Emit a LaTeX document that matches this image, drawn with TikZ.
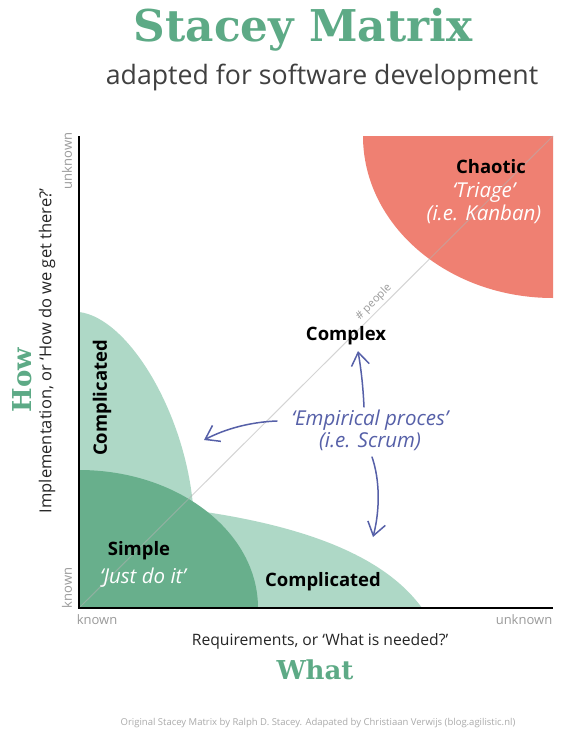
\documentclass[tikz,border=0pt]{standalone}
\usepackage{fontspec}
\setmainfont{Open Sans}
\newfontfamily\slab{DejaVu Serif}
\usetikzlibrary{arrows.meta,calc}
\definecolor{lightg}{HTML}{AED8C6}
\definecolor{darkg}{HTML}{68AF8C}
\definecolor{titleg}{HTML}{5DAA86}
\definecolor{chaos}{HTML}{EF8072}
\definecolor{handb}{HTML}{5660A8}
\definecolor{tickgray}{HTML}{9A9A9A}
\definecolor{footgray}{HTML}{AAAAAA}
\begin{document}
\begin{tikzpicture}[x=1pt,y=-1pt,
  zone/.style={font=\bfseries\fontsize{18.5}{20}\selectfont, text=black, inner sep=0pt},
  hand/.style={font=\itshape\fontsize{20.5}{22}\selectfont, inner sep=0pt},
  ticklbl/.style={font=\fontsize{13}{15}\selectfont, text=tickgray, inner sep=0pt},
  harrow/.style={draw=handb, line width=1.5pt, line cap=round,
    -{Straight Barb[length=13pt,width=18pt,line width=1.5pt]}},
  axis/.style={draw=black, line width=2pt}]
\useasboundingbox (0,0) rectangle (580,736);
\fill[white] (0,0) rectangle (580,736);

% coordinates
\coordinate (O) at (79,608);
\coordinate (TL) at (79,136);
\coordinate (BR) at (553,608);
\coordinate (TR) at (553,136);

% chaotic region
\fill[chaos] (363,136) arc[start angle=180, end angle=90, x radius=190, y radius=162] -- (TR) -- cycle;

% light green regions
\fill[lightg] (79,312) .. controls (130,318) and (190,420) .. (194,520) -- (205,608) -- (O) -- cycle;
\fill[lightg] (79,500) .. controls (280,510) and (380,550) .. (422,608) -- (O) -- cycle;

% dark green region
\fill[darkg] (79,470) arc[start angle=270, end angle=360, x radius=179, y radius=138] -- (O) -- cycle;

% diagonal
\draw[gray!60, opacity=0.55, line width=1pt] (O) -- (TR);
\node[rotate=45, anchor=south, font=\fontsize{11}{13}\selectfont, text=tickgray, inner sep=3pt]
  (people) at ($(O)!0.635!(TR)$) {\# people};

% axes
\draw[axis] (TL) -- (O) -- (BR);

% tick labels
\node[ticklbl] (kx) at (97,620) {known};
\node[ticklbl] (ux) at (524,620) {unknown};
\node[ticklbl, rotate=90] (ky) at (67,588) {known};
\node[ticklbl, rotate=90] (uy) at (67,161) {unknown};

% zone labels
\node[zone] (chaotic) at (491,167) {Chaotic};
\node[hand, text=white, align=center, font=\itshape\fontsize{20.5}{23}\selectfont] (triage) at (484,203) {‘Triage’\\(i.e. Kanban)};
\node[zone] (complex) at (346,336) {Complex};
\node[zone, rotate=90] (cmpv) at (102,398) {Complicated};
\node[zone] (simple) at (139,551) {Simple};
\node[hand, text=white] (just) at (143,578) {‘Just do it’};
\node[zone] (cmph) at (323,582) {Complicated};

% empirical process
\node[hand, text=handb, align=center] (emp) at (370,430) {‘Empirical proces’\\(i.e. Scrum)};
\coordinate (upTip) at (358,351);
\coordinate (leftTip) at (204,440);
\coordinate (downTip) at (373,537);
\draw[harrow] ([shift={(-6,-23)}]emp.center) .. controls +(-1,-22) and +(3,18) .. (upTip);
\draw[harrow] ([shift={(-93,-9)}]emp.center) .. controls +(-27,1) and +(21,-11) .. (leftTip);
\draw[harrow] ([shift={(2,27)}]emp.center) .. controls +(8,23) and +(7,-27) .. (downTip);

% axis titles
\node[font=\fontsize{15.7}{18}\selectfont, text=black!85] (req) at (320,641) {Requirements, or ‘What is needed?’};
\node[font=\slab\bfseries\fontsize{26}{28}\selectfont, text=titleg] (what) at (315,670) {What};
\node[font=\slab\bfseries\fontsize{26}{28}\selectfont, text=titleg, rotate=90] (how) at (22,380) {How};
\node[font=\fontsize{16.5}{18}\selectfont, text=black!85, rotate=90] (impl) at (47,351) {Implementation, or ‘How do we get there?’};

% title
\node[font=\slab\bfseries\fontsize{43.8}{48}\selectfont, text=titleg] (title) at (303,30) {Stacey Matrix};
\node[font=\fontsize{26.7}{30}\selectfont, text=black!75] (subtitle) at (322,77) {adapted for software development};

% footer
\node[font=\fontsize{9.5}{11}\selectfont, text=footgray] (foot) at (318,723) {Original Stacey Matrix by Ralph D. Stacey. Adapated by Christiaan Verwijs (blog.agilistic.nl)};
\end{tikzpicture}
\end{document}
